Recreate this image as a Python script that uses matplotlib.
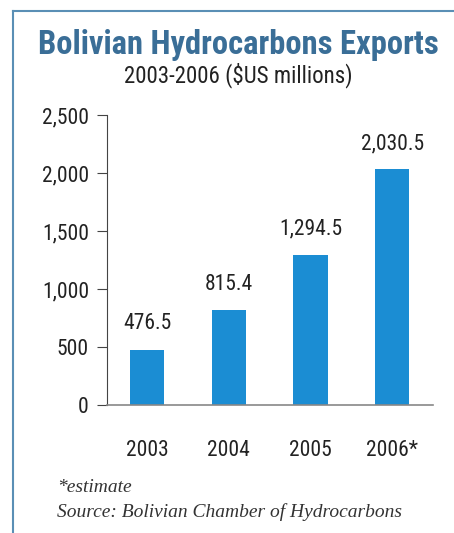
import matplotlib.pyplot as plt
from matplotlib.lines import Line2D

# data
years = ["2003", "2004", "2005", "2006*"]
exports = [476.5, 815.4, 1294.5, 2030.5]
value_labels = ["476.5", "815.4", "1,294.5", "2,030.5"]
yticks = [0, 500, 1000, 1500, 2000, 2500]
ytick_labels = ["0", "500", "1,000", "1,500", "2,000", "2,500"]

narrow = ["Roboto Condensed", "DejaVu Sans"]
serif = ["Liberation Serif", "DejaVu Serif"]
bar_color = "#1b8dd3"
frame_color = "#5a8fb5"
ink = "#222222"

fig = plt.figure(figsize=(4.54, 5.33), dpi=100)
ax = fig.add_axes([0.2357, 0.2402, 0.718, 0.544])

x = range(len(years))
ax.bar(x, exports, width=0.42, color=bar_color, zorder=2)
for xi, v, lab in zip(x, exports, value_labels):
    ax.annotate(lab, (xi, v), xytext=(0, 11), textcoords="offset points",
                ha="center", va="bottom", fontsize=15.5, family=narrow, color=ink)

ax.set_xlim(-0.49, 3.5)
ax.set_ylim(0, 2500)
ax.set_yticks(yticks)
ax.set_yticklabels(ytick_labels, family=narrow, fontsize=15.5, color=ink)
ax.set_xticks(list(x))
ax.set_xticklabels(years, family=narrow, fontsize=15.5, color=ink)
ax.tick_params(axis="y", length=7, width=0.8, color="#444444", pad=6)
ax.tick_params(axis="x", length=0, pad=25)
ax.spines["top"].set_visible(False)
ax.spines["right"].set_visible(False)
ax.spines["left"].set_color("#444444")
ax.spines["left"].set_linewidth(0.8)
ax.spines["bottom"].set_color("#888888")
ax.spines["bottom"].set_linewidth(1.2)

# titles
fig.text(0.526, 0.915, "Bolivian Hydrocarbons Exports", ha="center", va="center",
         fontsize=23.5, fontweight="bold", family=narrow, color="#3a6e97")
fig.text(0.524, 0.858, "2003-2006 ($US millions)", ha="center", va="center",
         fontsize=16.5, family=narrow, color=ink)

# footnotes
fig.text(0.125, 0.086, "*estimate", ha="left", va="center", fontsize=14,
         style="italic", family=serif, color="#333333")
fig.text(0.125, 0.039, "Source: Bolivian Chamber of Hydrocarbons", ha="left",
         va="center", fontsize=14, style="italic", family=serif, color="#333333")

# frame lines (top and left)
fig.add_artist(Line2D([0.028, 1.0], [0.979, 0.979], transform=fig.transFigure,
                      color=frame_color, lw=1.5))
fig.add_artist(Line2D([0.028, 0.028], [0.0, 0.979], transform=fig.transFigure,
                      color=frame_color, lw=1.5))

fig.savefig("out.png", dpi=100)
